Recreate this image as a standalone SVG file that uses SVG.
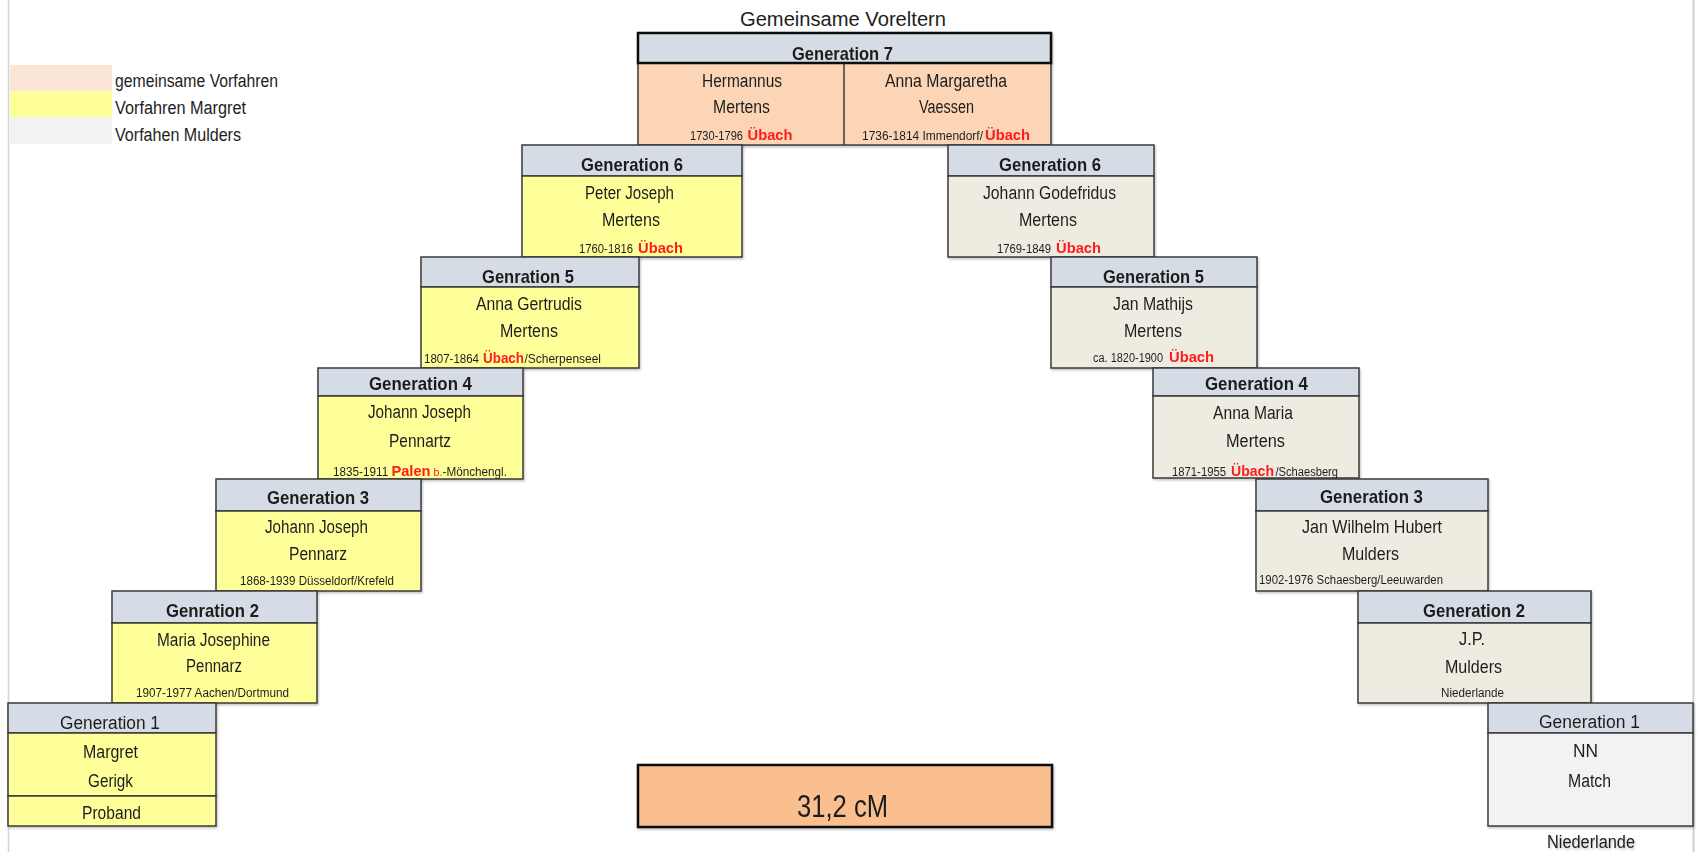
<svg xmlns="http://www.w3.org/2000/svg" width="1698" height="852" viewBox="0 0 1698 852">
<defs>
<style>
text{font-family:"Liberation Sans",Arial,sans-serif;fill:#1e1e1e}
.h{font-size:19px;font-weight:bold}
.n{font-size:18px}
.d{font-size:12px}
.u{font-size:15px;font-weight:bold;fill:#ff1a1a}
.r{font-size:11px;fill:#ff1a1a}
.hd{fill:#d6dce5;stroke:#3a3a3a;stroke-width:1.5}
.y{fill:#ffff99;stroke:#3a3a3a;stroke-width:1.5}
.b{fill:#eeece1;stroke:#3a3a3a;stroke-width:1.5}
.p{fill:#fbd5b5;stroke:#3a3a3a;stroke-width:1.5}
.w{fill:#f2f2f2;stroke:#3a3a3a;stroke-width:1.5}
</style>
<filter id="sh" x="-5%" y="-5%" width="110%" height="115%">
<feDropShadow dx="1" dy="1.5" stdDeviation="1" flood-color="#000" flood-opacity="0.25"/>
</filter>
</defs>
<rect width="1698" height="852" fill="#ffffff"/>
<line x1="8.5" y1="0" x2="8.5" y2="852" stroke="#d4d4d4" stroke-width="1.5"/>
<line x1="1693.5" y1="0" x2="1693.5" y2="852" stroke="#cfcfcf" stroke-width="2"/>

<g id="title">
<text x="740" y="26" style="font-size:19.5px" textLength="206" lengthAdjust="spacingAndGlyphs">Gemeinsame Voreltern</text>
</g>

<g id="legend">
<rect x="10" y="65" width="102" height="26" fill="#fce4d6"/>
<rect x="10" y="91" width="102" height="26" fill="#ffff99"/>
<rect x="10" y="117" width="102" height="27" fill="#f2f2f2"/>
<text x="115" y="87" class="n" textLength="163" lengthAdjust="spacingAndGlyphs">gemeinsame Vorfahren</text>
<text x="115" y="114" class="n" textLength="131" lengthAdjust="spacingAndGlyphs">Vorfahren Margret</text>
<text x="115" y="141" class="n" textLength="126" lengthAdjust="spacingAndGlyphs">Vorfahen Mulders</text>
</g>

<g id="connectors"></g>

<g id="gen7" filter="url(#sh)">
<rect x="638" y="63" width="413" height="82" class="p"/>
<line x1="844" y1="63" x2="844" y2="145" stroke="#3a3a3a" stroke-width="1.5"/>
<rect x="638" y="33" width="413" height="30" class="hd" style="stroke:#111;stroke-width:2.5"/>
<text x="792" y="60" class="h" textLength="101" lengthAdjust="spacingAndGlyphs">Generation 7</text>
<text x="702" y="87" class="n" textLength="80" lengthAdjust="spacingAndGlyphs">Hermannus</text>
<text x="713" y="113" class="n" textLength="57" lengthAdjust="spacingAndGlyphs">Mertens</text>
<text x="690" y="140" class="d" textLength="53" lengthAdjust="spacingAndGlyphs">1730-1796</text>
<text x="747.5" y="140" class="u" textLength="45" lengthAdjust="spacingAndGlyphs">Übach</text>
<text x="885" y="87" class="n" textLength="122" lengthAdjust="spacingAndGlyphs">Anna Margaretha</text>
<text x="919" y="113" class="n" textLength="55" lengthAdjust="spacingAndGlyphs">Vaessen</text>
<text x="862" y="140" class="d" textLength="121" lengthAdjust="spacingAndGlyphs">1736-1814 Immendorf/</text>
<text x="985" y="140" class="u" textLength="45" lengthAdjust="spacingAndGlyphs">Übach</text>
</g>

<g id="gen6-left" filter="url(#sh)">
<rect x="522" y="145" width="220" height="31" class="hd"/>
<rect x="522" y="176" width="220" height="81" class="y"/>
<text x="581" y="171" class="h" textLength="102" lengthAdjust="spacingAndGlyphs">Generation 6</text>
<text x="585" y="199" class="n" textLength="89" lengthAdjust="spacingAndGlyphs">Peter Joseph</text>
<text x="602" y="226" class="n" textLength="58" lengthAdjust="spacingAndGlyphs">Mertens</text>
<text x="579" y="253" class="d" textLength="54" lengthAdjust="spacingAndGlyphs">1760-1816</text>
<text x="638" y="253" class="u" textLength="45" lengthAdjust="spacingAndGlyphs">Übach</text>
</g>

<g id="gen6-right" filter="url(#sh)">
<rect x="948" y="145" width="206" height="31" class="hd"/>
<rect x="948" y="176" width="206" height="81" class="b"/>
<text x="999" y="171" class="h" textLength="102" lengthAdjust="spacingAndGlyphs">Generation 6</text>
<text x="983" y="199" class="n" textLength="133" lengthAdjust="spacingAndGlyphs">Johann Godefridus</text>
<text x="1019" y="226" class="n" textLength="58" lengthAdjust="spacingAndGlyphs">Mertens</text>
<text x="997" y="253" class="d" textLength="54" lengthAdjust="spacingAndGlyphs">1769-1849</text>
<text x="1056" y="253" class="u" textLength="45" lengthAdjust="spacingAndGlyphs">Übach</text>
</g>

<g id="gen5-left" filter="url(#sh)">
<rect x="421" y="257" width="218" height="30" class="hd"/>
<rect x="421" y="287" width="218" height="81" class="y"/>
<text x="482" y="283" class="h" textLength="92" lengthAdjust="spacingAndGlyphs">Genration 5</text>
<text x="476" y="310" class="n" textLength="106" lengthAdjust="spacingAndGlyphs">Anna Gertrudis</text>
<text x="500" y="337" class="n" textLength="58" lengthAdjust="spacingAndGlyphs">Mertens</text>
<text x="424" y="363" class="d" textLength="55" lengthAdjust="spacingAndGlyphs">1807-1864</text>
<text x="483" y="363" class="u" textLength="41" lengthAdjust="spacingAndGlyphs">Übach</text>
<text x="524.5" y="363" class="d" textLength="76.5" lengthAdjust="spacingAndGlyphs">/Scherpenseel</text>
</g>

<g id="gen5-right" filter="url(#sh)">
<rect x="1051" y="257" width="206" height="30" class="hd"/>
<rect x="1051" y="287" width="206" height="81" class="b"/>
<text x="1103" y="283" class="h" textLength="101" lengthAdjust="spacingAndGlyphs">Generation 5</text>
<text x="1113" y="310" class="n" textLength="80" lengthAdjust="spacingAndGlyphs">Jan Mathijs</text>
<text x="1124" y="337" class="n" textLength="58" lengthAdjust="spacingAndGlyphs">Mertens</text>
<text x="1093" y="362" class="d" textLength="70" lengthAdjust="spacingAndGlyphs">ca. 1820-1900</text>
<text x="1169" y="362" class="u" textLength="45" lengthAdjust="spacingAndGlyphs">Übach</text>
</g>

<g id="gen4-left" filter="url(#sh)">
<rect x="318" y="368" width="205" height="28" class="hd"/>
<rect x="318" y="396" width="205" height="83" class="y"/>
<text x="369" y="390" class="h" textLength="103" lengthAdjust="spacingAndGlyphs">Generation 4</text>
<text x="368" y="418" class="n" textLength="103" lengthAdjust="spacingAndGlyphs">Johann Joseph</text>
<text x="389" y="447" class="n" textLength="62" lengthAdjust="spacingAndGlyphs">Pennartz</text>
<text x="333" y="476" class="d" textLength="174" lengthAdjust="spacingAndGlyphs">1835-1911 <tspan class="u">Palen</tspan><tspan class="r"> b.</tspan>-Mönchengl.</text>
</g>

<g id="gen4-right" filter="url(#sh)">
<rect x="1153" y="368" width="206" height="28" class="hd"/>
<rect x="1153" y="396" width="206" height="82" class="b"/>
<text x="1205" y="390" class="h" textLength="103" lengthAdjust="spacingAndGlyphs">Generation 4</text>
<text x="1213" y="419" class="n" textLength="80" lengthAdjust="spacingAndGlyphs">Anna Maria</text>
<text x="1226" y="447" class="n" textLength="59" lengthAdjust="spacingAndGlyphs">Mertens</text>
<text x="1172" y="476" class="d" textLength="54" lengthAdjust="spacingAndGlyphs">1871-1955</text>
<text x="1231" y="476" class="u" textLength="43" lengthAdjust="spacingAndGlyphs">Übach</text>
<text x="1275.5" y="476" class="d" textLength="62.5" lengthAdjust="spacingAndGlyphs">/Schaesberg</text>
</g>

<g id="gen3-left" filter="url(#sh)">
<rect x="216" y="479" width="205" height="32" class="hd"/>
<rect x="216" y="511" width="205" height="80" class="y"/>
<text x="267" y="504" class="h" textLength="102" lengthAdjust="spacingAndGlyphs">Generation 3</text>
<text x="265" y="533" class="n" textLength="103" lengthAdjust="spacingAndGlyphs">Johann Joseph</text>
<text x="289" y="560" class="n" textLength="58" lengthAdjust="spacingAndGlyphs">Pennarz</text>
<text x="240" y="585" class="d" textLength="154" lengthAdjust="spacingAndGlyphs">1868-1939 Düsseldorf/Krefeld</text>
</g>

<g id="gen3-right" filter="url(#sh)">
<rect x="1256" y="479" width="232" height="32" class="hd"/>
<rect x="1256" y="511" width="232" height="80" class="b"/>
<text x="1320" y="503" class="h" textLength="103" lengthAdjust="spacingAndGlyphs">Generation 3</text>
<text x="1302" y="533" class="n" textLength="140" lengthAdjust="spacingAndGlyphs">Jan Wilhelm Hubert</text>
<text x="1342" y="560" class="n" textLength="57" lengthAdjust="spacingAndGlyphs">Mulders</text>
<text x="1259" y="584" class="d" textLength="184" lengthAdjust="spacingAndGlyphs">1902-1976 Schaesberg/Leeuwarden</text>
</g>

<g id="gen2-left" filter="url(#sh)">
<rect x="112" y="591" width="205" height="32" class="hd"/>
<rect x="112" y="623" width="205" height="80" class="y"/>
<text x="166" y="617" class="h" textLength="93" lengthAdjust="spacingAndGlyphs">Genration 2</text>
<text x="157" y="646" class="n" textLength="113" lengthAdjust="spacingAndGlyphs">Maria Josephine</text>
<text x="186" y="672" class="n" textLength="56" lengthAdjust="spacingAndGlyphs">Pennarz</text>
<text x="136" y="697" class="d" textLength="153" lengthAdjust="spacingAndGlyphs">1907-1977 Aachen/Dortmund</text>
</g>

<g id="gen2-right" filter="url(#sh)">
<rect x="1358" y="591" width="233" height="32" class="hd"/>
<rect x="1358" y="623" width="233" height="80" class="b"/>
<text x="1423" y="617" class="h" textLength="102" lengthAdjust="spacingAndGlyphs">Generation 2</text>
<text x="1459" y="645" class="n" textLength="26" lengthAdjust="spacingAndGlyphs">J.P.</text>
<text x="1445" y="673" class="n" textLength="57" lengthAdjust="spacingAndGlyphs">Mulders</text>
<text x="1441" y="697" class="d" textLength="63" lengthAdjust="spacingAndGlyphs">Niederlande</text>
</g>

<g id="gen1-left" filter="url(#sh)">
<rect x="8" y="703" width="208" height="30" class="hd"/>
<rect x="8" y="733" width="208" height="63" class="y"/>
<rect x="8" y="796" width="208" height="30" class="y"/>
<text x="60" y="729" class="n" textLength="100" lengthAdjust="spacingAndGlyphs">Generation 1</text>
<text x="83" y="758" class="n" textLength="55" lengthAdjust="spacingAndGlyphs">Margret</text>
<text x="88" y="787" class="n" textLength="45" lengthAdjust="spacingAndGlyphs">Gerigk</text>
<text x="82" y="819" class="n" textLength="59" lengthAdjust="spacingAndGlyphs">Proband</text>
</g>

<g id="gen1-right" filter="url(#sh)">
<rect x="1488" y="703" width="205" height="30" class="hd"/>
<rect x="1488" y="733" width="205" height="93" class="w"/>
<text x="1539" y="728" class="n" textLength="101" lengthAdjust="spacingAndGlyphs">Generation 1</text>
<text x="1573" y="757" class="n" textLength="25" lengthAdjust="spacingAndGlyphs">NN</text>
<text x="1568" y="787" class="n" textLength="43" lengthAdjust="spacingAndGlyphs">Match</text>
<text x="1547" y="848" class="n" textLength="88" lengthAdjust="spacingAndGlyphs">Niederlande</text>
</g>

<g id="cm-box" filter="url(#sh)">
<rect x="638" y="765" width="414" height="62" fill="#f9bf8f" stroke="#111" stroke-width="2.5"/>
<text x="797" y="817" style="font-size:32px" textLength="91" lengthAdjust="spacingAndGlyphs">31,2 cM</text>
</g>
</svg>
